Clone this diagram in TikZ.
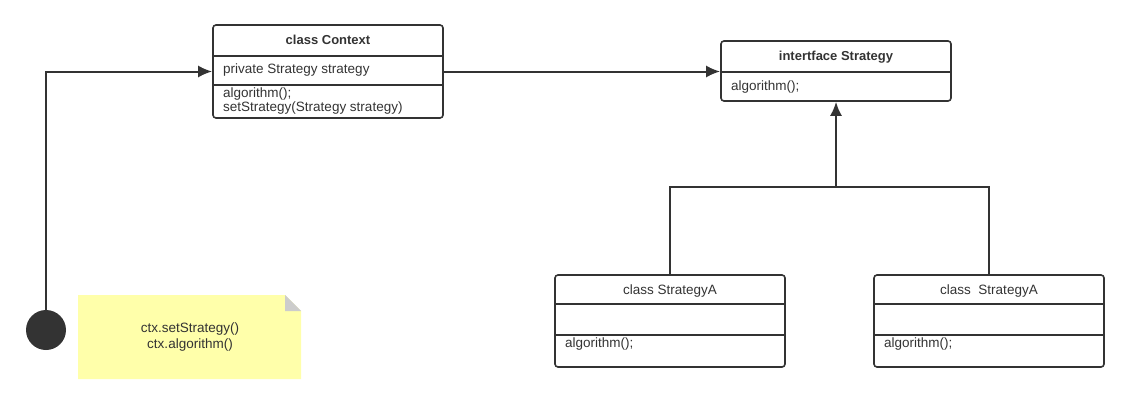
\documentclass[tikz,border=0pt]{standalone}
\usepackage{fontspec}
\setmainfont{Liberation Sans}
\usetikzlibrary{arrows.meta}
\definecolor{ink}{RGB}{51,51,51}
\definecolor{notefill}{RGB}{255,255,170}
\definecolor{foldgray}{RGB}{204,204,204}
\tikzset{
	umlbox/.style={draw=ink, line width=1.6pt, rounded corners=3pt, minimum width=230pt, inner sep=0pt},
	divider/.style={draw=ink, line width=1.6pt},
	title/.style={font=\fontsize{13}{15}\selectfont\bfseries, text=ink},
	member/.style={font=\fontsize{13.5}{15}\selectfont, text=ink, anchor=west, inner sep=0pt},
	wire/.style={draw=ink, line width=2pt},
	assoc/.style={wire, -{Latex[length=14pt,width=12pt]}}
}
\begin{document}
\begin{tikzpicture}[x=1pt, y=-1pt]
		\useasboundingbox (0,0) rectangle (1129,404);
		
		% class Context
		\node[umlbox, minimum height=93pt] (ctx) at (328,71.5) {};
		\draw[divider] (ctx.west |- 0,56) -- (ctx.east |- 0,56);
		\draw[divider] (ctx.west |- 0,85) -- (ctx.east |- 0,85);
		\node[title] (ctxtitle) at (328,40) {class Context};
		\node[member] (ctxfield) at (223,70.5) {private Strategy strategy};
		\node[member] (ctxalgo) at (223,94) {algorithm();};
		\node[member] (ctxset) at (223,108) {setStrategy(Strategy strategy)};
		
		% interface
		\node[umlbox, minimum height=60pt] (strat) at (836,71) {};
		\draw[divider] (strat.west |- 0,72) -- (strat.east |- 0,72);
		\node[title] (strattitle) at (836,57) {intertface Strategy};
		\node[member] (stratalgo) at (731,87.5) {algorithm();};
		
		% concrete strategies
		\foreach \name/\x/\label in {sa/670/{class StrategyA}, sb/989/{class~~StrategyA}}
		{
			\node[umlbox, minimum height=92pt] (\name) at (\x,321) {};
			\draw[divider] (\name.west |- 0,304) -- (\name.east |- 0,304);
			\draw[divider] (\name.west |- 0,335) -- (\name.east |- 0,335);
			\node[title, font=\fontsize{13.5}{15}\selectfont] (\name title) at (\x,291) {\label};
			\node[member] (\name algo) at (\x-105,344) {algorithm();};
		}
		
		% client and note
		\node[circle, fill=ink, minimum size=40pt, inner sep=0pt] (start) at (46,330) {};
		\fill[notefill] (78,295) -- (285,295) -- (301,311) -- (301,379) -- (78,379) -- cycle;
		\fill[foldgray] (285,295) -- (285,311) -- (301,311) -- cycle;
		\node[font=\fontsize{13.5}{16}\selectfont, text=ink, align=center] (note) at (190,337) {ctx.setStrategy()\\ctx.algorithm()};
		
		% connectors
		\coordinate (join) at (836,187);
		\draw[assoc] (start.north) |- (ctx.west);
		\draw[assoc] (ctx.east) -- (ctx.east -| strat.west);
		\draw[wire] (sa.north) |- (join) -| (sb.north);
		\draw[assoc] (join) -- (strat.south);
\end{tikzpicture}
\end{document}
